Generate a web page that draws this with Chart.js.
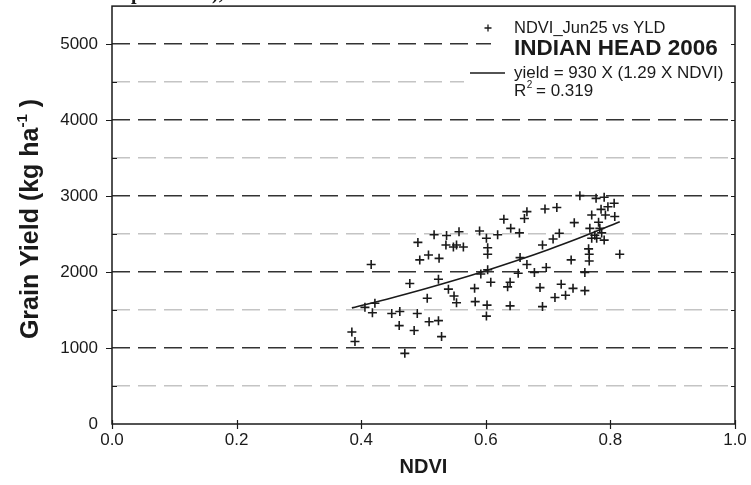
<!DOCTYPE html>
<html>
<head>
<meta charset="utf-8">
<script src="https://cdn.jsdelivr.net/npm/chart.js@4.4.1/dist/chart.umd.min.js"></script>
<style>
  html, body { margin: 0; padding: 0; background: #fff; }
  canvas { display: block; }
</style>
</head>
<body>
<canvas id="yieldChart" width="751" height="485"></canvas>
<script>
// NDVI (Jun 25) vs grain yield
const ndvi = [
  0.491, 0.517, 0.537, 0.557, 0.536, 0.548, 0.553, 0.564, 0.494, 0.508,
  0.525, 0.416, 0.590, 0.601, 0.603, 0.603, 0.619, 0.629, 0.640, 0.654,
  0.662, 0.666, 0.695, 0.714, 0.751, 0.777, 0.790, 0.806, 0.796, 0.785,
  0.792, 0.807, 0.770, 0.742, 0.781, 0.767, 0.783, 0.775, 0.786, 0.770,
  0.778, 0.790, 0.718, 0.708, 0.691, 0.765, 0.766, 0.815, 0.655, 0.666,
  0.697, 0.737, 0.766, 0.678, 0.652, 0.759, 0.478, 0.524, 0.540, 0.549,
  0.553, 0.506, 0.582, 0.583, 0.602, 0.601, 0.592, 0.406, 0.422, 0.418,
  0.449, 0.462, 0.490, 0.461, 0.485, 0.509, 0.524, 0.529, 0.385, 0.390,
  0.470, 0.608, 0.639, 0.635, 0.687, 0.721, 0.728, 0.711, 0.740, 0.759,
  0.639, 0.691, 0.603
]
const yieldKg = [
  2390, 2490, 2480, 2530, 2355, 2330, 2355, 2330, 2160, 2225,
  2180, 2100, 2540, 2445, 2320, 2235, 2490, 2695, 2575, 2515,
  2705, 2795, 2830, 2850, 3005, 2970, 2985, 2905, 2860, 2825,
  2750, 2730, 2750, 2650, 2655, 2575, 2575, 2485, 2515, 2445,
  2445, 2420, 2510, 2435, 2355, 2305, 2235, 2235, 2190, 2100,
  2060, 2160, 2145, 1995, 1985, 1995, 1850, 1905, 1775, 1685,
  1595, 1655, 1785, 1610, 1565, 1420, 1975, 1535, 1590, 1465,
  1455, 1480, 1455, 1295, 1230, 1345, 1360, 1150, 1210, 1085,
  930, 1865, 1865, 1805, 1795, 1840, 1695, 1665, 1785, 1755,
  1555, 1545, 2030
]

// fitted curve
const fitNdvi = [0.385, 0.45, 0.5, 0.55, 0.6, 0.65, 0.7, 0.75, 0.815]
const fitYield = [1528, 1662, 1773, 1891, 2017, 2151, 2294, 2447, 2661]

const legendLines = ["NDVI_Jun25 vs YLD", "INDIAN HEAD 2006", "yield = 930 X (1.29 X NDVI)"]
const rSquared = "0.319"

const INK = "#1a1a1a"
const SANS = "'Liberation Sans', Arial, sans-serif"

const scatterPoints = ndvi.map((x, i) => ({ x: x, y: yieldKg[i] }))
const fitPoints = fitNdvi.map((x, i) => ({ x: x, y: fitYield[i] }))

// frame, tick marks, axis titles and the legend block
const decorations = {
  id: "decorations",
  beforeDatasetsDraw(chart) {
    const { ctx, chartArea } = chart
    // white patch behind the legend (covers the grid there)
    ctx.save()
    ctx.fillStyle = "#fff"
    ctx.fillRect(491, chartArea.top + 4, chartArea.right - 493, 52)
    ctx.fillRect(464, chartArea.top + 56, chartArea.right - 466, 44)
    ctx.restore()
  },
  afterDraw(chart) {
    const { ctx, chartArea, scales } = chart
    const { left, right, top, bottom } = chartArea
    ctx.save()
    ctx.strokeStyle = INK
    ctx.lineWidth = 1.5
    ctx.strokeRect(left, top, right - left, bottom - top)

    // y ticks: majors outward, minors inward, also on the right side
    ctx.lineWidth = 1.2
    for (let v = 500; v <= 5000; v += 500) {
      const py = Math.round(scales.y.getPixelForValue(v)) + 0.5
      ctx.beginPath()
      if (v % 1000 === 0) {
        ctx.moveTo(left - 6, py); ctx.lineTo(left, py)
      } else {
        ctx.moveTo(left, py); ctx.lineTo(left + 5, py)
      }
      ctx.moveTo(right - 4, py); ctx.lineTo(right, py)
      ctx.stroke()
    }
    // x ticks
    for (let v = 0; v <= 1.0001; v += 0.2) {
      const px = Math.round(scales.x.getPixelForValue(v)) + 0.5
      ctx.beginPath()
      ctx.moveTo(px, bottom - 4); ctx.lineTo(px, bottom + 5)
      ctx.stroke()
    }

    // axis titles
    ctx.fillStyle = INK
    ctx.font = "bold 20px " + SANS
    ctx.textAlign = "center"
    ctx.textBaseline = "middle"
    ctx.fillText("NDVI", (left + right) / 2, 467)

    ctx.translate(29, 219)
    ctx.rotate(-Math.PI / 2)
    const mainPart = "Grain Yield (kg ha"
    const supPart = "-1"
    const endPart = " )"
    ctx.font = "bold 25px " + SANS
    const w1 = ctx.measureText(mainPart).width
    const w3 = ctx.measureText(endPart).width
    ctx.font = "bold 15px " + SANS
    const w2 = ctx.measureText(supPart).width
    let x0 = -(w1 + w2 + w3) / 2
    ctx.textAlign = "left"
    ctx.textBaseline = "alphabetic"
    ctx.font = "bold 25px " + SANS
    ctx.fillText(mainPart, x0, 9)
    ctx.font = "bold 15px " + SANS
    ctx.fillText(supPart, x0 + w1, -2)
    ctx.font = "bold 25px " + SANS
    ctx.fillText(endPart, x0 + w1 + w2, 9)
    ctx.setTransform(1, 0, 0, 1, 0, 0)

    // legend
    const lx = 514
    ctx.strokeStyle = INK
    ctx.lineWidth = 1.3
    ctx.beginPath()
    ctx.moveTo(488 - 3.5, 28); ctx.lineTo(488 + 3.5, 28)
    ctx.moveTo(488, 28 - 3.5); ctx.lineTo(488, 28 + 3.5)
    ctx.stroke()
    ctx.lineWidth = 1.5
    ctx.beginPath()
    ctx.moveTo(470, 73); ctx.lineTo(505, 73)
    ctx.stroke()

    ctx.fillStyle = INK
    ctx.textBaseline = "middle"
    ctx.font = "16.5px " + SANS
    ctx.fillText(legendLines[0], lx, 28)
    ctx.font = "bold 22.5px " + SANS
    ctx.fillText(legendLines[1], lx, 49)
    ctx.font = "17px " + SANS
    ctx.fillText(legendLines[2], lx, 73)
    ctx.fillText("R", lx, 91)
    const rw = ctx.measureText("R").width
    ctx.font = "10px " + SANS
    ctx.fillText("2", lx + rw + 0.5, 85)
    ctx.font = "17px " + SANS
    ctx.fillText(" = " + rSquared, lx + rw + 5, 91)

    // clipped caption fragment at the very top edge
    ctx.font = "bold 20px 'Liberation Serif', serif"
    ctx.textBaseline = "alphabetic"
    ctx.fillText("p", 131, -1)
    ctx.fillText("),", 212, -1)
    ctx.restore()
  }
}

const ctx = document.getElementById("yieldChart").getContext("2d")

new Chart(ctx, {
  type: "scatter",
  data: {
    datasets: [
      {
        label: "NDVI_Jun25 vs YLD",
        data: scatterPoints,
        pointStyle: "cross",
        pointRadius: 4.5,
        borderColor: INK,
        backgroundColor: INK,
        pointBorderWidth: 1.6,
      },
      {
        label: "fit",
        type: "line",
        data: fitPoints,
        showLine: true,
        pointRadius: 0,
        borderColor: INK,
        borderWidth: 1.6,
        tension: 0.4,
        fill: false,
      },
    ],
  },
  options: {
    responsive: false,
    animation: false,
    events: [],
    layout: { padding: { top: 6, right: 16, left: 0, bottom: 0 } },
    plugins: {
      legend: { display: false },
      tooltip: { enabled: false },
    },
    scales: {
      x: {
        type: "linear",
        min: 0,
        max: 1,
        ticks: {
          stepSize: 0.2,
          callback: v => v.toFixed(1),
          font: { family: SANS, size: 17 },
          color: INK,
          padding: 6,
        },
        grid: { display: false, drawTicks: false },
        border: { display: false },
        afterFit: scale => {
          scale.height = 61
          scale.paddingLeft = 0
          scale.paddingRight = 0
        },
      },
      y: {
        min: 0,
        max: 5500,
        ticks: {
          stepSize: 500,
          callback: v => (v % 1000 === 0 && v <= 5000 ? v : ""),
          font: { family: SANS, size: 17 },
          color: INK,
          padding: 14,
        },
        grid: {
          drawTicks: false,
          lineWidth: 1.5,
          color: c => {
            const v = c.tick ? c.tick.value : 0
            if (v === 0 || v >= 5500) return "rgba(0,0,0,0)"
            return v % 1000 === 0 ? "#333" : "#c4c4c4"
          },
        },
        border: { display: false, dash: [18, 8] },
        afterFit: scale => {
          scale.width = 112
          scale.paddingTop = 0
          scale.paddingBottom = 0
        },
      },
    },
  },
  plugins: [decorations],
})
</script>
</body>
</html>
